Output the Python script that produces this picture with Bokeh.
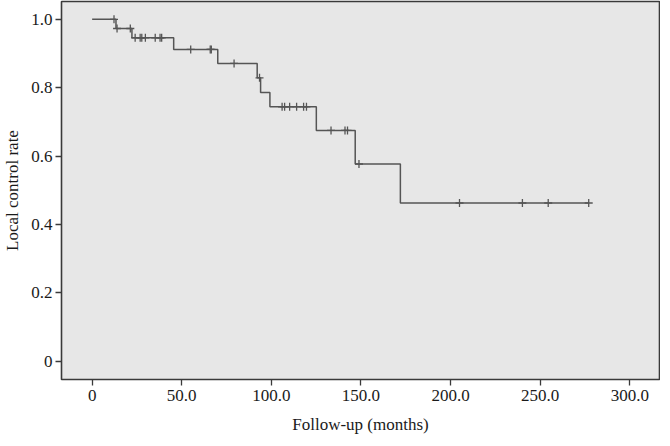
import numpy as np
from bokeh.plotting import figure
from bokeh.models import FixedTicker, Range1d
from bokeh.embed import file_html
from bokeh.resources import INLINE

# Kaplan-Meier data
event_times = [13.3, 22.2, 45.5, 70.1, 92.1, 94.0, 99.2, 125.1, 146.8, 172.0]
surv_after = [0.973, 0.946, 0.912, 0.871, 0.829, 0.786, 0.744, 0.675, 0.577, 0.463]
censor_times = [12.2, 13.9, 21.3, 24.0, 26.8, 27.7, 29.7, 35.2, 37.9, 38.8,
                55.0, 65.9, 66.5, 79.2, 93.4, 106.0, 107.4, 110.2, 114.1,
                118.0, 119.6, 133.3, 141.1, 142.5, 148.9, 205.0, 240.1,
                254.5, 277.1]
x_ticks = [0, 50, 100, 150, 200, 250, 300]
x_tick_labels = ["0", "50.0", "100.0", "150.0", "200.0", "250.0", "300.0"]
y_ticks = [0, 0.2, 0.4, 0.6, 0.8, 1.0]
y_tick_labels = ["0", "0.2", "0.4", "0.6", "0.8", "1.0"]
x_label = "Follow-up (months)"
y_label = "Local control rate"


def surv_at(t):
    s = 1.0
    for et, sv in zip(event_times, surv_after):
        if et <= t:
            s = sv
    return s


step_x = [0.0] + event_times + [max(censor_times)]
step_y = [1.0] + surv_after + [surv_after[-1]]
cens_y = [surv_at(t) for t in censor_times]

FONT = "Liberation Serif"

p = figure(width=660, height=436, output_backend="svg", toolbar_location=None,
           x_range=Range1d(-17.1, 316.6), y_range=Range1d(-0.053, 1.052),
           min_border_left=0, min_border_right=1, min_border_top=1,
           min_border_bottom=0)
p.background_fill_color = "#e7e7e7"
p.border_fill_color = "white"
p.outline_line_color = "#3a3a3a"
p.outline_line_width = 1.6
p.grid.visible = False

p.step(step_x, step_y, mode="after", line_color="#555555", line_width=1.5)
p.scatter(censor_times, cens_y, marker="cross", size=8,
          line_color="#555555", line_width=1.3)

for ax in (p.xaxis[0], p.yaxis[0]):
    ax.axis_line_color = None
    ax.major_tick_in = 0
    ax.major_tick_out = 6
    ax.major_tick_line_color = "#3a3a3a"
    ax.major_tick_line_width = 1.3
    ax.minor_tick_line_color = None
    ax.major_label_text_font = FONT
    ax.major_label_text_font_size = "17px"
    ax.major_label_text_color = "#1a1a1a"
    ax.axis_label_text_font = FONT
    ax.axis_label_text_font_size = "17px"
    ax.axis_label_text_font_style = "normal"
    ax.axis_label_text_color = "#1a1a1a"

p.xaxis[0].ticker = FixedTicker(ticks=x_ticks)
p.xaxis[0].major_label_overrides = dict(zip(x_ticks, x_tick_labels))
p.xaxis[0].axis_label = x_label
p.xaxis[0].major_label_standoff = 4
p.xaxis[0].axis_label_standoff = 11

p.yaxis[0].ticker = FixedTicker(ticks=y_ticks)
p.yaxis[0].major_label_overrides = dict(zip(y_ticks, y_tick_labels))
p.yaxis[0].axis_label = y_label
p.yaxis[0].major_label_standoff = 3
p.yaxis[0].axis_label_standoff = 6

open("out.html", "w").write(file_html(p, INLINE))
